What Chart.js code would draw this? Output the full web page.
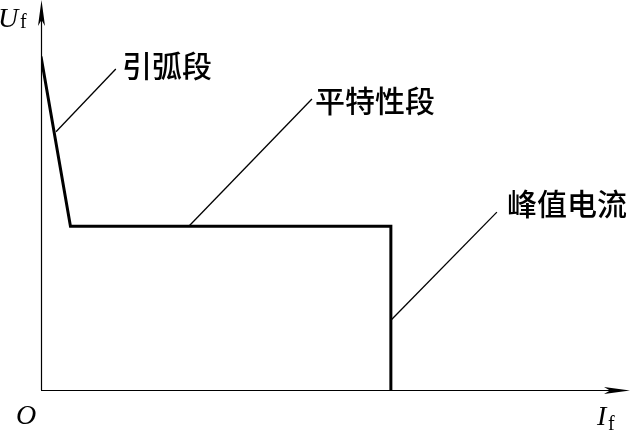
<!DOCTYPE html>
<html>
<head>
<meta charset="utf-8">
<script src="https://cdn.jsdelivr.net/npm/chart.js@4.4.0/dist/chart.umd.min.js"></script>
<style>
  html, body { margin: 0; padding: 0; background: #fff; }
  #wrap { width: 634px; height: 433px; }
</style>
</head>
<body>
<div id="wrap"><canvas id="arcChart"></canvas></div>
<script>
// characteristic curve (I_f, U_f), arbitrary units 0..100
let currentPts = [0, 5, 59.4, 59.4];
let voltagePts = [85.5, 42, 42, 0];

// leader lines: from curve to label
let leaderLabels = ['引弧段', '平特性段', '峰值电流'];
let leaderFromX = [2.55, 25.1, 59.4];
let leaderFromY = [66.2, 42, 17.9];
let leaderToX = [12.7, 46.0, 77.4];
let leaderToY = [82.3, 74.6, 45.6];
// where the label text starts
let labelX = [13.75, 46.5, 79.1];
let labelY = [83.3, 74.1, 47.7];

let axisNames = { x: 'I', y: 'U', sub: 'f', origin: 'O' };

let datasets = [{
    label: 'curve',
    data: currentPts.map((x, i) => ({ x: x, y: voltagePts[i] })),
    showLine: true,
    borderColor: '#000',
    borderWidth: 3,
    pointRadius: 0,
    borderJoinStyle: 'miter'
}];
leaderLabels.forEach((name, i) => {
    datasets.push({
        label: name,
        data: [{ x: leaderFromX[i], y: leaderFromY[i] }, { x: leaderToX[i], y: leaderToY[i] }],
        showLine: true,
        borderColor: '#000',
        borderWidth: 1.3,
        pointRadius: 0
    });
});

function arrowHead(ctx, x, y, dir) {
    // dir: 'up' or 'right'
    ctx.save();
    ctx.translate(x, y);
    if (dir === 'up') ctx.rotate(-Math.PI / 2);
    ctx.beginPath();
    ctx.moveTo(0, 0);
    ctx.lineTo(-26, -3.5);
    ctx.lineTo(-20, 0);
    ctx.lineTo(-26, 3.5);
    ctx.closePath();
    ctx.fillStyle = '#000';
    ctx.fill();
    ctx.restore();
}

const axesPlugin = {
    id: 'axesPlugin',
    beforeDatasetsDraw(chart) {
        let ctx = chart.ctx;
        let a = chart.chartArea;
        ctx.save();
        ctx.strokeStyle = '#000';
        ctx.lineWidth = 1.2;
        ctx.beginPath();
        ctx.moveTo(a.left + 0.5, a.bottom);
        ctx.lineTo(a.left + 0.5, a.top + 10);
        ctx.moveTo(a.left, a.bottom + 0.5);
        ctx.lineTo(a.right - 10, a.bottom + 0.5);
        ctx.stroke();
        arrowHead(ctx, a.left + 0.5, a.top, 'up');
        arrowHead(ctx, a.right, a.bottom + 0.5, 'right');
        ctx.restore();
    },
    afterDatasetsDraw(chart) {
        let ctx = chart.ctx;
        let a = chart.chartArea;
        let xs = chart.scales.x, ys = chart.scales.y;
        ctx.save();
        ctx.fillStyle = '#000';
        ctx.textBaseline = 'alphabetic';
        // axis names
        ctx.font = 'italic 28px "Liberation Serif"';
        ctx.fillText(axisNames.y, a.left - 43, a.top + 27);
        ctx.fillText(axisNames.x, a.right - 33, a.bottom + 35);
        ctx.fillText(axisNames.origin, a.left - 25, a.bottom + 34);
        ctx.font = '20px "Liberation Serif"';
        ctx.fillText(axisNames.sub, a.left - 21, a.top + 28);
        ctx.fillText(axisNames.sub, a.right - 22, a.bottom + 40);
        // segment labels
        ctx.font = '500 30px "Noto Sans CJK SC"';
        ctx.textBaseline = 'middle';
        leaderLabels.forEach((name, i) => {
            ctx.fillText(name, xs.getPixelForValue(labelX[i]), ys.getPixelForValue(labelY[i]));
        });
        ctx.restore();
    }
};

new Chart(document.getElementById('arcChart'), {
    type: 'scatter',
    data: { datasets: datasets },
    options: {
        responsive: true,
        maintainAspectRatio: false,
        animation: false,
        layout: { padding: { left: 41, right: 4, top: 0, bottom: 43 } },
        plugins: { legend: { display: false }, tooltip: { enabled: false } },
        scales: {
            x: { type: 'linear', min: 0, max: 100, display: false },
            y: { type: 'linear', min: 0, max: 100, display: false }
        }
    },
    plugins: [axesPlugin]
});
</script>
</body>
</html>
